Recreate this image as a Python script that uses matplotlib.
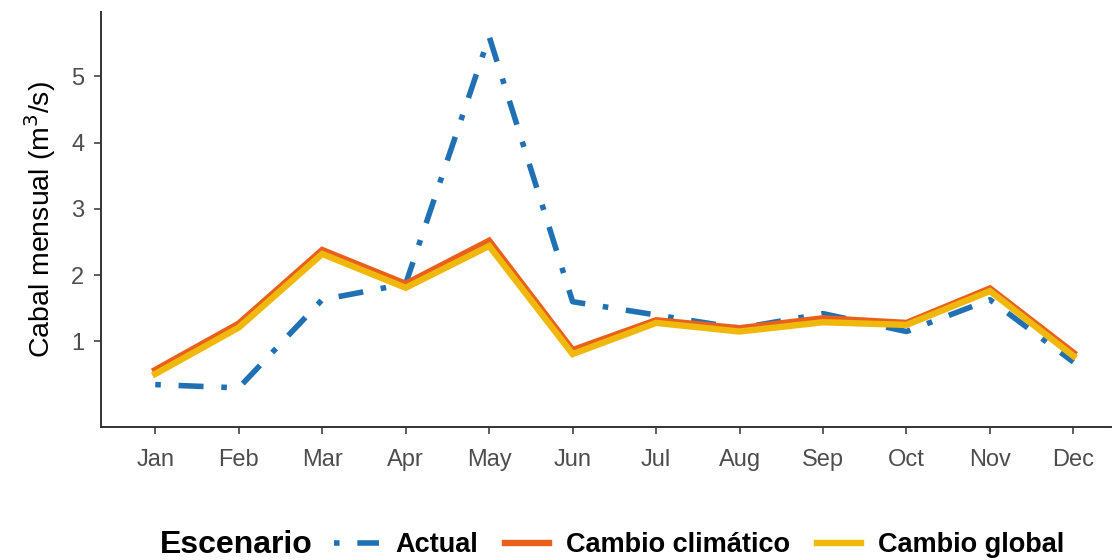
import matplotlib.pyplot as plt

# --- datos mensuales (m3/s) ---
meses = ['Jan', 'Feb', 'Mar', 'Apr', 'May', 'Jun', 'Jul', 'Aug', 'Sep', 'Oct', 'Nov', 'Dec']
actual = [0.35, 0.30, 1.63, 1.87, 5.60, 1.60, 1.40, 1.20, 1.42, 1.15, 1.63, 0.69]
cambio_climatico = [0.57, 1.27, 2.38, 1.87, 2.52, 0.87, 1.32, 1.20, 1.35, 1.28, 1.80, 0.83]
cambio_global = [0.51, 1.21, 2.32, 1.81, 2.44, 0.81, 1.28, 1.15, 1.29, 1.25, 1.76, 0.78]

AZUL = '#2070b4'
NARANJA = '#e8601c'
AMARILLO = '#f1b80c'

plt.rcParams['font.family'] = ['Liberation Sans', 'DejaVu Sans']

fig = plt.figure(figsize=(11.17, 5.6), dpi=100)
ax = fig.add_axes([101 / 1117, 1 - 427 / 560, 1010 / 1117, 415 / 560])

x = list(range(1, len(meses) + 1))
ax.plot(x, actual, color=AZUL, lw=4.0, linestyle=(0, (1, 3.2, 4.5, 3.2)),
        dash_capstyle='butt', label='Actual', zorder=3)
ax.plot(x, cambio_climatico, color=NARANJA, lw=4.6, solid_joinstyle='miter',
        label='Cambio climático', zorder=4)
ax.plot(x, cambio_global, color=AMARILLO, lw=4.6, solid_joinstyle='miter',
        label='Cambio global', zorder=5)

ax.set_xlim(0.35, 12.45)
ax.set_ylim(-0.29, 5.97)
ax.set_xticks(x)
ax.set_xticklabels(meses)
ax.set_yticks([1, 2, 3, 4, 5])
ax.tick_params(axis='both', colors='#333333', labelcolor='#4d4d4d',
               labelsize=17, length=5, width=1.1, direction='out')
ax.tick_params(axis='x', pad=11)
ax.tick_params(axis='y', pad=7)
for lado in ['top', 'right']:
    ax.spines[lado].set_visible(False)
for lado in ['left', 'bottom']:
    ax.spines[lado].set_color('#333333')
    ax.spines[lado].set_linewidth(1.4)

ax.set_ylabel('Cabal mensual (m$^3$/s)', fontsize=20.5, color='black')
ax.yaxis.set_label_coords(-0.043, 0.5)

# leyenda horizontal abajo, titulo a la izquierda
fig.text(160 / 1117, 1 - 545 / 560, 'Escenario', fontsize=23, fontweight='bold',
         va='center', ha='left')
leg = fig.legend(loc='center left', bbox_to_anchor=(334 / 1117, 1 - 545 / 560),
                 ncol=3, frameon=False, handlelength=1.65, columnspacing=1.0,
                 handletextpad=0.6, borderaxespad=0, borderpad=0,
                 prop={'weight': 'bold', 'size': 19.5})

fig.savefig('out.png', dpi=100)
